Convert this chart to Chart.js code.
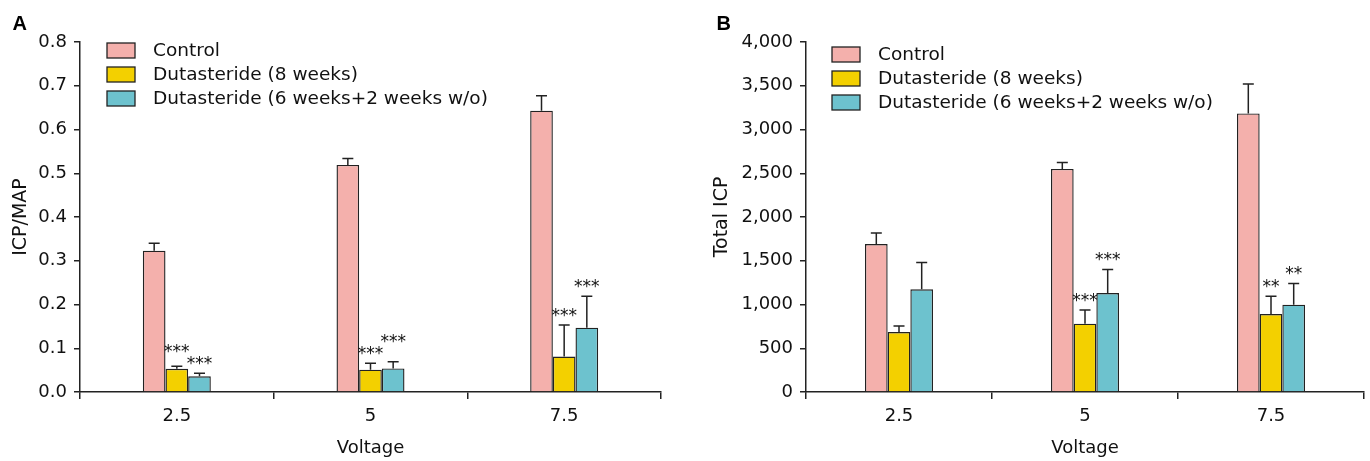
<!DOCTYPE html>
<html>
<head>
<meta charset="utf-8">
<script src="https://cdn.jsdelivr.net/npm/chart.js@4.4.1/dist/chart.umd.min.js"></script>
<style>
    html, body { margin: 0; padding: 0; background: #fff; }
    .panel { position: absolute; top: 0; width: 685px; height: 461px; }
    #panel-a { left: 0; }
    #panel-b { left: 685px; }
</style>
</head>
<body>
<div class="panel" id="panel-a"><canvas id="chart-a"></canvas></div>
<div class="panel" id="panel-b"><canvas id="chart-b"></canvas></div>
<script>
const voltages = ['2.5', '5', '7.5'];
const groupNames = ['Control', 'Dutasteride (8 weeks)', 'Dutasteride (6 weeks+2 weeks w/o)'];
const barColors = ['#f4b0ac', '#f3d000', '#6dc2ce'];

// Panel A - ICP/MAP (mean and SEM)
const ratioControl = [0.323, 0.519, 0.643];
const ratioControlErr = [0.017, 0.015, 0.034];
const ratioDut8 = [0.053, 0.051, 0.081];
const ratioDut8Err = [0.006, 0.015, 0.072];
const ratioDut6 = [0.036, 0.054, 0.147];
const ratioDut6Err = [0.007, 0.015, 0.072];
const ratioStarsDut8 = ['***', '***', '***'];
const ratioStarsDut6 = ['***', '***', '***'];
const ratioTicks = ['0.0', '0.1', '0.2', '0.3', '0.4', '0.5', '0.6', '0.7', '0.8'];

// Panel B - Total ICP (mean and SEM)
const icpControl = [1691, 2549, 3184];
const icpControlErr = [126, 75, 336];
const icpDut8 = [686, 781, 891];
const icpDut8Err = [68, 156, 202];
const icpDut6 = [1173, 1131, 998];
const icpDut6Err = [308, 270, 243];
const icpStarsDut8 = ['', '***', '**'];
const icpStarsDut6 = ['', '***', '**'];
const icpTicks = ['0', '500', '1,000', '1,500', '2,000', '2,500', '3,000', '3,500', '4,000'];

const noStars = ['', '', ''];
const ink = '#222';
const textFont = '"DejaVu Sans", Verdana, sans-serif';

Chart.defaults.font.family = textFont;
Chart.defaults.color = '#111';

function buildChart(canvasId, cfg) {
    // error bars (upward only, with a cap)
    const errorBars = {
        id: 'errorBars',
        afterDatasetsDraw(chart) {
            const ctx = chart.ctx;
            const yScale = chart.scales.y;
            ctx.save();
            ctx.strokeStyle = ink;
            ctx.lineWidth = 1.5;
            chart.data.datasets.forEach((ds, i) => {
                chart.getDatasetMeta(i).data.forEach((bar, j) => {
                    const yTop = yScale.getPixelForValue(ds.data[j] + ds.errors[j]);
                    ctx.beginPath();
                    ctx.moveTo(bar.x, bar.y);
                    ctx.lineTo(bar.x, yTop);
                    ctx.moveTo(bar.x - 5.5, yTop);
                    ctx.lineTo(bar.x + 5.5, yTop);
                    ctx.stroke();
                });
            });
            ctx.restore();
        }
    };

    // significance marks above the error bars; neighbours that would collide get staggered
    const starMarks = {
        id: 'starMarks',
        afterDatasetsDraw(chart) {
            const ctx = chart.ctx;
            const yScale = chart.scales.y;
            ctx.save();
            ctx.fillStyle = '#111';
            ctx.font = '17px ' + textFont;
            ctx.textAlign = 'center';
            ctx.textBaseline = 'alphabetic';
            chart.data.labels.forEach((_, j) => {
                const marks = [];
                chart.data.datasets.forEach((ds, i) => {
                    if (!ds.stars[j]) return;
                    const bar = chart.getDatasetMeta(i).data[j];
                    const yTop = yScale.getPixelForValue(ds.data[j] + ds.errors[j]);
                    marks.push({ text: ds.stars[j], x: bar.x, y: yTop - 4 });
                });
                for (let k = 1; k < marks.length; k++) {
                    const a = marks[k - 1];
                    const b = marks[k];
                    if (Math.abs(a.y - b.y) < 12) {
                        if (a.y < b.y) a.y = b.y - 12;
                        else b.y = a.y - 12;
                    }
                }
                marks.forEach(m => ctx.fillText(m.text, m.x, m.y));
            });
            ctx.restore();
        }
    };

    // legend stacked inside the plot area
    const boxLegend = {
        id: 'boxLegend',
        afterDraw(chart) {
            const ctx = chart.ctx;
            const area = chart.chartArea;
            ctx.save();
            ctx.font = '18.5px ' + textFont;
            ctx.textBaseline = 'middle';
            chart.data.datasets.forEach((ds, i) => {
                const x = area.left + cfg.legendDx;
                const y = area.top + cfg.legendDy + i * 24;
                ctx.fillStyle = ds.backgroundColor;
                ctx.fillRect(x, y, 28, 15);
                ctx.strokeStyle = ink;
                ctx.lineWidth = 1.3;
                ctx.strokeRect(x, y, 28, 15);
                ctx.fillStyle = '#111';
                ctx.fillText(ds.label, x + 46, y + 8);
            });
            ctx.restore();
        }
    };

    const panelLabel = {
        id: 'panelLabel',
        afterDraw(chart) {
            const ctx = chart.ctx;
            ctx.save();
            ctx.font = 'bold 20px "Liberation Sans", Arial, sans-serif';
            ctx.fillStyle = '#000';
            ctx.textBaseline = 'alphabetic';
            ctx.fillText(cfg.letter, cfg.letterX, 29.5);
            ctx.restore();
        }
    };

    return new Chart(document.getElementById(canvasId), {
        type: 'bar',
        data: {
            labels: voltages,
            datasets: cfg.series.map((s, i) => ({
                label: groupNames[i],
                data: s.values,
                errors: s.errors,
                stars: s.stars,
                backgroundColor: barColors[i],
                borderColor: ink,
                borderWidth: 1.4,
                categoryPercentage: cfg.groupWidth,
                barPercentage: 1
            }))
        },
        options: {
            responsive: true,
            maintainAspectRatio: false,
            animation: false,
            layout: {
                padding: { top: 42, right: cfg.padRight, left: 0, bottom: 0 }
            },
            plugins: {
                legend: { display: false },
                tooltip: { enabled: false }
            },
            scales: {
                x: {
                    offset: true,
                    grid: {
                        offset: true,
                        drawOnChartArea: false,
                        tickLength: 7,
                        color: ink,
                        lineWidth: 1.5
                    },
                    border: { color: ink, width: 1.5 },
                    ticks: { color: '#111', font: { size: 18 }, padding: 7 },
                    title: {
                        display: true,
                        text: 'Voltage',
                        color: '#111',
                        font: { size: 18 },
                        padding: { top: 0, bottom: 2 }
                    },
                    afterFit: scale => { scale.height = 69; }
                },
                y: {
                    min: 0,
                    max: cfg.max,
                    ticks: {
                        stepSize: cfg.step,
                        color: '#111',
                        font: { size: 18 },
                        padding: 7,
                        callback: (value, index) => cfg.tickLabels[index]
                    },
                    grid: {
                        drawOnChartArea: false,
                        tickLength: 6,
                        color: ink,
                        lineWidth: 1.5
                    },
                    border: { color: ink, width: 1.5 },
                    title: {
                        display: true,
                        text: cfg.yTitle,
                        color: '#111',
                        font: { size: 19 },
                        padding: { top: cfg.titlePad, bottom: 0 }
                    },
                    afterFit: scale => { scale.width = cfg.axisLeft; }
                }
            }
        },
        plugins: [errorBars, starMarks, boxLegend, panelLabel]
    });
}

buildChart('chart-a', {
    letter: 'A',
    letterX: 12.5,
    yTitle: 'ICP/MAP',
    max: 0.8,
    step: 0.1,
    tickLabels: ratioTicks,
    axisLeft: 80,
    padRight: 24,
    titlePad: 10,
    groupWidth: 0.351,
    legendDx: 27,
    legendDy: 1,
    series: [
        { values: ratioControl, errors: ratioControlErr, stars: noStars },
        { values: ratioDut8, errors: ratioDut8Err, stars: ratioStarsDut8 },
        { values: ratioDut6, errors: ratioDut6Err, stars: ratioStarsDut6 }
    ]
});

buildChart('chart-b', {
    letter: 'B',
    letterX: 31.5,
    yTitle: 'Total ICP',
    max: 4000,
    step: 500,
    tickLabels: icpTicks,
    axisLeft: 121,
    padRight: 6,
    titlePad: 26,
    groupWidth: 0.366,
    legendDx: 26,
    legendDy: 5,
    series: [
        { values: icpControl, errors: icpControlErr, stars: noStars },
        { values: icpDut8, errors: icpDut8Err, stars: icpStarsDut8 },
        { values: icpDut6, errors: icpDut6Err, stars: icpStarsDut6 }
    ]
});
</script>
</body>
</html>
